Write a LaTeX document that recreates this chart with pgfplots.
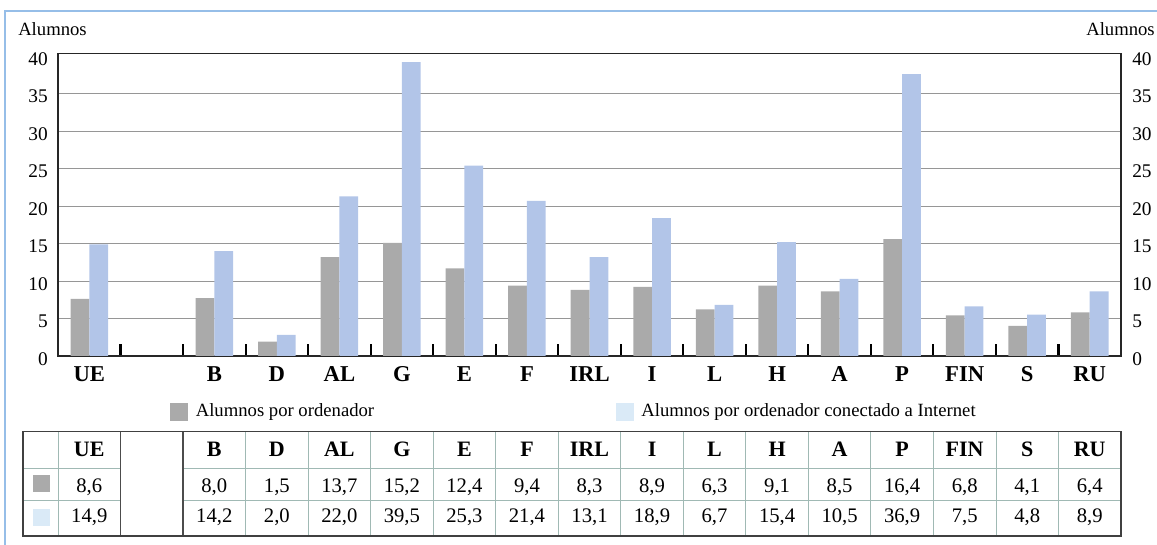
\documentclass[border=0pt]{standalone}
\usepackage{fontspec}
\setmainfont{Liberation Serif}
\usepackage{pgfplots}
\pgfplotsset{compat=1.18}
\definecolor{barGray}{RGB}{170,170,170}
\definecolor{barBlue}{RGB}{178,197,232}
\definecolor{legBlue}{RGB}{218,234,247}
\definecolor{gridGray}{RGB}{150,150,150}
\definecolor{tabLine}{RGB}{160,185,180}
\definecolor{frameBlue}{RGB}{150,190,232}
\begin{document}
\begin{tikzpicture}
\path[use as bounding box] (0pt,0pt) rectangle (867.75pt,408.75pt);
\begin{axis}[
  at={(43.5pt,141.75pt)}, anchor=south west, scale only axis,
  width=797.25pt, height=227pt,
  xmin=-0.5, xmax=16.5, ymin=0, ymax=40.36,
  ybar, bar width=0.3,
  xtick={0,...,16},
  xticklabels={UE,,B,D,AL,G,E,F,IRL,I,L,H,A,P,FIN,S,RU},
  minor xtick={0.5,1.5,...,15.5},
  xtick pos=left, ytick pos=left,
  tick align=inside,
  major tick length=0pt, minor tick length=9pt,
  minor tick style={line width=1.6pt, black},
  ytick={0,5,...,35}, extra y ticks={40}, extra y tick style={grid=none},
  ymajorgrids, grid style={gridGray, line width=0.6pt},
  axis line style={black!85, line width=0.9pt},
  xticklabel style={font=\bfseries\fontsize{17}{20}\selectfont, anchor=base, yshift=-19.5pt},
  yticklabel style={font=\fontsize{14.5}{17}\selectfont, anchor=east, inner sep=0pt, xshift=-7.5pt, yshift=-2.25pt},
  /pgf/number format/assume math mode=true,
  legend columns=2, legend cell align=left,
  legend style={at={(0.1054,-0.1834)}, anchor=west, draw=none, fill=none,
    inner sep=0pt, column sep=0pt,
    nodes={inner sep=0pt, font=\fontsize{14}{17}\selectfont}},
]
\addplot[fill=barGray, draw=none, bar shift=-0.15, forget plot] coordinates {
 (0,7.6) (2,7.7) (3,1.9) (4,13.2) (5,15.1) (6,11.7) (7,9.4) (8,8.8)
 (9,9.2) (10,6.2) (11,9.4) (12,8.6) (13,15.6) (14,5.4) (15,4.0) (16,5.8)};
\addplot[fill=barBlue, draw=none, bar shift=0.15, forget plot] coordinates {
 (0,14.9) (2,14.0) (3,2.8) (4,21.3) (5,39.2) (6,25.4) (7,20.7) (8,13.2)
 (9,18.4) (10,6.8) (11,15.2) (12,10.3) (13,37.6) (14,6.6) (15,5.5) (16,8.6)};
\addlegendimage{legend image code/.code={\fill[barGray] (0pt,-6.4pt) rectangle (12.75pt,6.4pt); \path (18.75pt,0pt);}}
\addlegendentry{\makebox[315pt][l]{Alumnos por ordenador}}
\addlegendimage{legend image code/.code={\fill[legBlue] (0pt,-6.4pt) rectangle (12.75pt,6.4pt); \path (18.75pt,0pt);}}
\addlegendentry{Alumnos por ordenador conectado a Internet}
\end{axis}
\begin{axis}[
  at={(43.5pt,141.75pt)}, anchor=south west, scale only axis,
  width=797.25pt, height=227pt,
  xmin=-0.5, xmax=16.5, ymin=0, ymax=40.36,
  axis x line=none, axis y line*=right, y axis line style={draw=none},
  ytick={0,5,...,40}, major tick length=0pt,
  yticklabel style={font=\fontsize{14.5}{17}\selectfont, anchor=west, inner sep=0pt, xshift=8.25pt, yshift=-2.25pt},
  /pgf/number format/assume math mode=true,
]
\addplot[draw=none, forget plot] coordinates {(0,0)};
\end{axis}
\begin{scope}[x=0.75pt,y=-0.75pt,shift={(0pt,408.75pt)}]
 \draw[frameBlue, line width=1.5pt] (5,545) -- (5,11) -- (1157,11);
 \node[anchor=base west, inner sep=0pt, font=\fontsize{14}{17}\selectfont] at (18,36) {Alumnos};
 \node[anchor=base east, inner sep=0pt, font=\fontsize{14}{17}\selectfont] at (1155,36) {Alumnos};
 \draw[tabLine, line width=0.6pt] (23,468.3) -- (120.5,468.3) (183.1,468.3) -- (1121,468.3)
   (23,500) -- (120.5,500) (183.1,500) -- (1121,500);
 \draw[tabLine, line width=0.6pt] (58,431.7) -- (58,536);
 \foreach \v in {2.5,3.5,...,15.5} \draw[tabLine, line width=0.6pt] ({58+(\v+0.5)*62.529},431.7) -- ({58+(\v+0.5)*62.529},536);
 \draw[black!70, line width=1pt] (120.5,431.7) -- (120.5,536) (183.1,431.7) -- (183.1,536);
 \draw[black!75, line width=1.1pt] (23,431.7) rectangle (1121,536);
 \fill[barGray] (32.5,475.5) rectangle (49.5,492.5);
 \fill[legBlue] (32.5,509.5) rectangle (49.5,526.5);
 \foreach \s/\h/\a/\b in {0/UE/{8,6}/{14,9}, 2/B/{8,0}/{14,2}, 3/D/{1,5}/{2,0}, 4/AL/{13,7}/{22,0},
   5/G/{15,2}/{39,5}, 6/E/{12,4}/{25,3}, 7/F/{9,4}/{21,4}, 8/IRL/{8,3}/{13,1}, 9/I/{8,9}/{18,9},
   10/L/{6,3}/{6,7}, 11/H/{9,1}/{15,4}, 12/A/{8,5}/{10,5}, 13/P/{16,4}/{36,9}, 14/FIN/{6,8}/{7,5},
   15/S/{4,1}/{4,8}, 16/RU/{6,4}/{8,9}} {
   \node[anchor=base, inner sep=0pt, font=\bfseries\fontsize{16.5}{19}\selectfont] at ({58+(\s+0.5)*62.529},456.5) {\h};
   \node[anchor=base, inner sep=0pt, font=\fontsize{15.5}{18}\selectfont] at ({58+(\s+0.5)*62.529},493) {\a};
   \node[anchor=base, inner sep=0pt, font=\fontsize{15.5}{18}\selectfont] at ({58+(\s+0.5)*62.529},522.5) {\b};
 }
\end{scope}
\end{tikzpicture}
\end{document}
